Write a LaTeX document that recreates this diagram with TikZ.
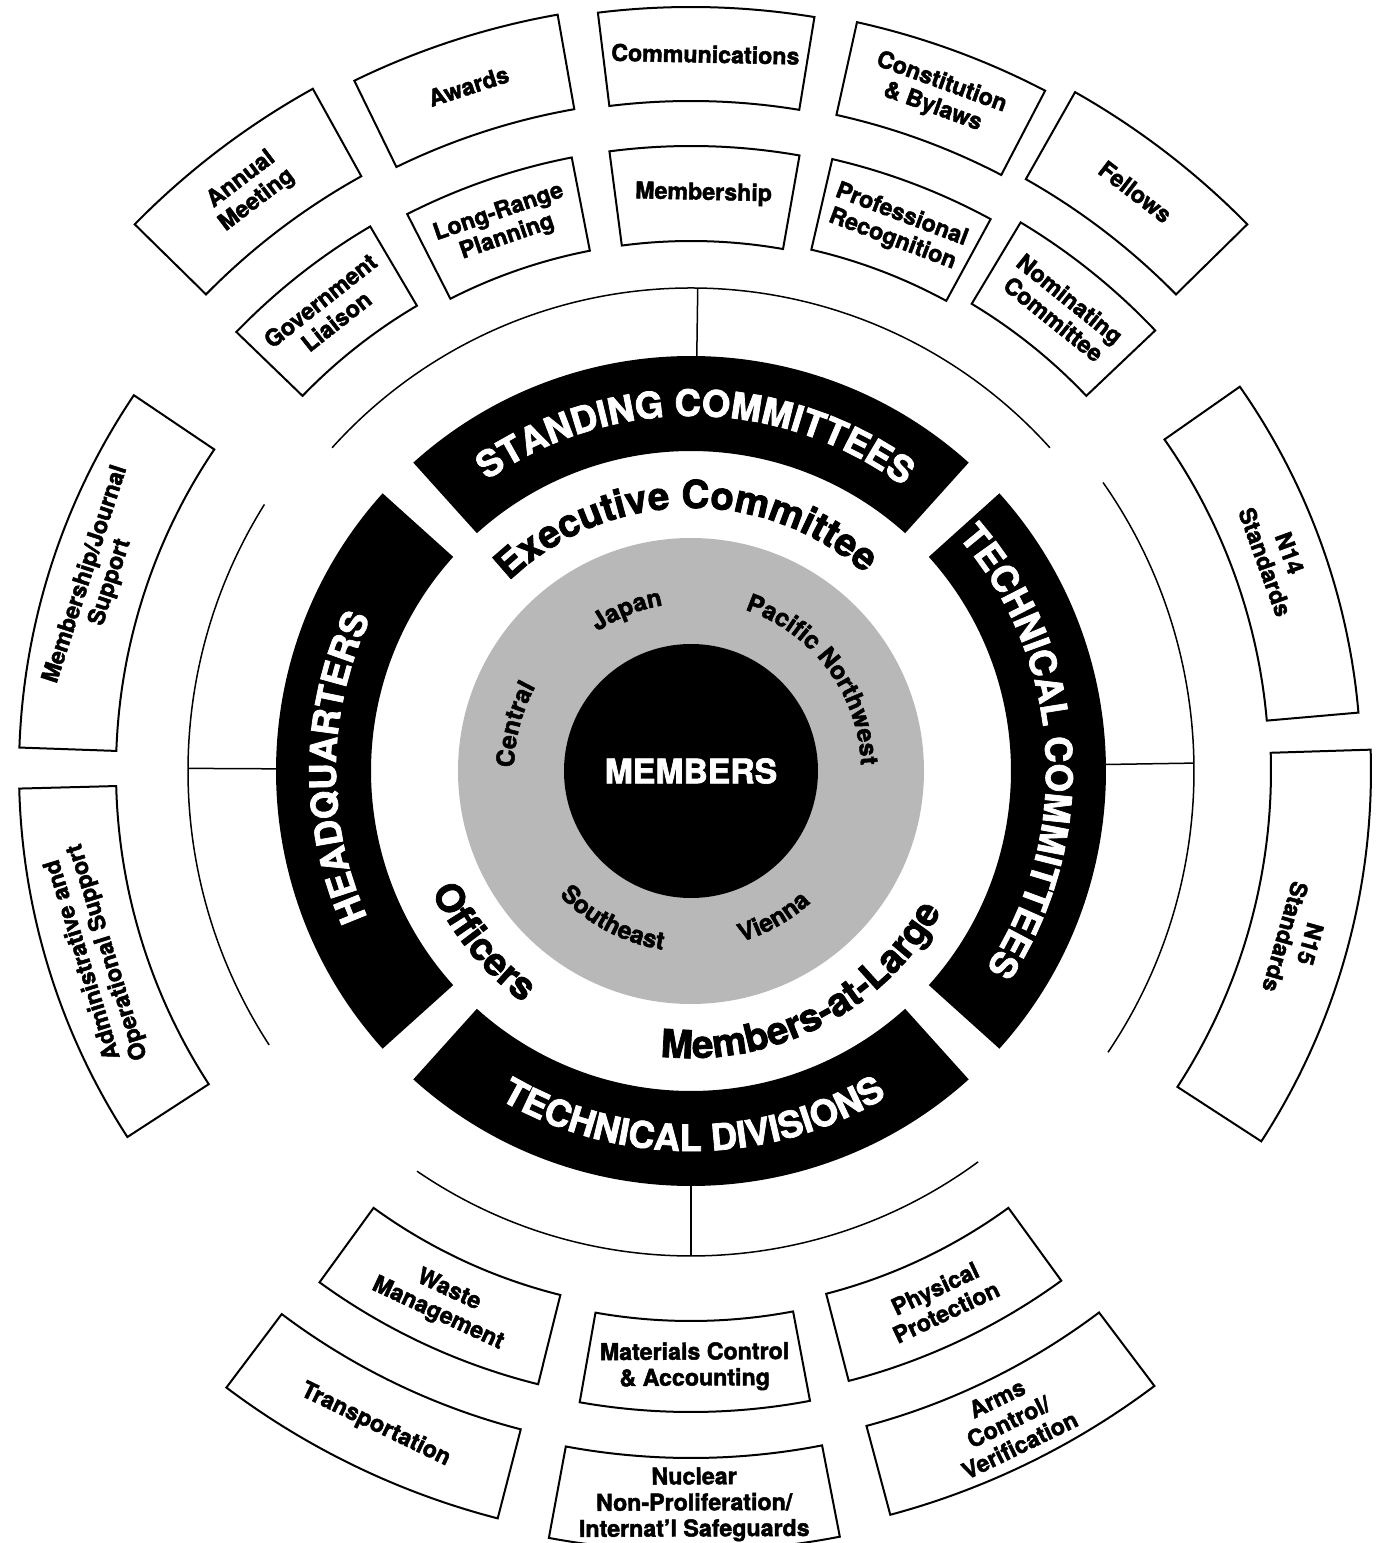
\documentclass[tikz,border=0pt]{standalone}
\usepackage{fontspec}
\setsansfont{TeX Gyre Heros}[BoldFeatures={FakeBold=2}]
\renewcommand{\familydefault}{\sfdefault}
\usetikzlibrary{decorations.text}

\newcommand{\bandfont}{\fontsize{10.4}{12}\selectfont\bfseries}
\newcommand{\execfont}{\fontsize{11}{13}\selectfont\bfseries}
\newcommand{\regionfont}{\fontsize{7}{8}\selectfont\bfseries}

\begin{document}
\begin{tikzpicture}[
    x=0.1mm, y=0.1mm, % one unit per pixel of the chart
    % Styles
    band/.style={fill=black},
    ring/.style={line width=0.15mm},
    box/.style={ % Committee or division box
        draw,
        line width=0.2mm
    },
    boxtext/.style={
        font=\fontsize{6.6}{7.4}\selectfont\bfseries,
        align=center,
        inner sep=0pt
    },
    whitetext/.style={ % Text set along an arc
        decorate,
        decoration={text along path, text align=center, text color=white, text={#1}}
    },
    blacktext/.style={
        decorate,
        decoration={text along path, text align=center, text={#1}}
    }
]
    \useasboundingbox (-691,-772) rectangle (693,771);

    % Black band
    \foreach \ta/\tb in {48/132, 138/222, 228/312, 318/402}
        \fill[band] (\ta:320) arc[start angle=\ta, end angle=\tb, radius=320]
            -- (\tb:415) arc[start angle=\tb, end angle=\ta, radius=415] -- cycle;

    % Sections and members
    \fill[black!28] (0,0) circle[radius=233];
    \node[circle, fill=black, text=white, minimum size=25.4mm, inner sep=0pt,
        font=\fontsize{9.6}{10}\selectfont\bfseries] (members) at (0,0) {MEMBERS};

    % Band labels
    \path[whitetext={|\bandfont|STANDING COMMITTEES}] (149.2:355) arc[start angle=149.2, end angle=29.2, radius=355];
    \path[whitetext={|\bandfont|TECHNICAL COMMITTEES}] (63.7:355) arc[start angle=63.7, end angle=-56.3, radius=355];
    \path[whitetext={|\bandfont|HEADQUARTERS}] (239.4:355) arc[start angle=239.4, end angle=119.4, radius=355];
    \path[whitetext={|\bandfont|TECHNICAL DIVISIONS}] (210.4:380) arc[start angle=210.4, end angle=330.4, radius=380];

    % Inner ring labels
    \path[blacktext={|\execfont|Executive Committee}] (151.2:263) arc[start angle=151.2, end angle=31.2, radius=263];
    \path[blacktext={|\execfont|Officers}] (189.5:286) arc[start angle=189.5, end angle=249.5, radius=286];
    \path[blacktext={|\execfont|Members-at-Large}] (252.3:287) arc[start angle=252.3, end angle=342.3, radius=287];

    % Section labels
    \path[blacktext={|\regionfont|Japan}] (141.7:168) arc[start angle=141.7, end angle=81.7, radius=168];
    \path[blacktext={|\regionfont|Pacific Northwest}] (96.7:170) arc[start angle=96.7, end angle=-23.3, radius=170];
    \path[blacktext={|\regionfont|Central}] (195.2:177) arc[start angle=195.2, end angle=135.2, radius=177];
    \path[blacktext={|\regionfont|Southeast}] (212.2:181) arc[start angle=212.2, end angle=272.2, radius=181];
    \path[blacktext={|\regionfont|Vienna}] (269.4:178) arc[start angle=269.4, end angle=329.4, radius=178];

    % Outer rings
    \draw[ring] (42:483) arc[start angle=42, end angle=138, radius=483];
    \draw[ring] (235.6:485) arc[start angle=235.6, end angle=306.3, radius=485];
    \draw[ring] (148:503) arc[start angle=148, end angle=213, radius=503];
    \draw[ring] (-34:503) arc[start angle=-34, end angle=35, radius=503];

    % Band -> rings
    \coordinate (sc_in) at (89.2:415);
    \coordinate (sc_out) at (89.2:483);
    \coordinate (hq_in) at (179.7:415);
    \coordinate (hq_out) at (179.7:503);
    \coordinate (tc_in) at (0.9:415);
    \coordinate (tc_out) at (0.9:503);
    \coordinate (td_in) at (270:415);
    \coordinate (td_out) at (270:485);
    \draw[ring] (sc_in) -- (sc_out);
    \draw[ring] (hq_in) -- (hq_out);
    \draw[ring] (tc_in) -- (tc_out);
    \draw[ring] (td_in) -- (td_out);

    % Standing committees, headquarters, technical committees
    \foreach \nm/\ta/\tb/\ra/\rb/\txt in {
        annual/119/135.5/680/780/{Annual\\Meeting},
        awards/100/116/672/768/Awards,
        comms/80.7/97/670/764/Communications,
        constitution/62.5/77.5/672/767/{Constitution\\\& Bylaws},
        fellows/44.5/60.5/680/780/Fellows,
        government/120.5/136/540/632/{Government\\Liaison},
        planning/101/117/530/625/{Long-Range\\Planning},
        membership/80/97.5/530/625/Membership,
        recognition/61.5/77/535/628/{Professional\\Recognition},
        nominating/43.5/59/545/640/{Nominating\\Committee},
        journal/146/178/575/672/{Membership/Journal\\Support},
        admin/181.5/213/575/672/{Administrative and\\Operational Support},
        n14/5/35/578/670/{N14\\Standards},
        n15/-33/1.8/580/680/{N15\\Standards}} {
        \draw[box] (\ta:\ra) arc[start angle=\ta, end angle=\tb, radius=\ra]
            -- (\tb:\rb) arc[start angle=\tb, end angle=\ta, radius=\rb] -- cycle;
        \pgfmathsetmacro\tmid{(\ta+\tb)/2}
        \pgfmathsetmacro\rmid{(\ra+\rb)/2}
        \node[boxtext, rotate=\tmid-90] (\nm) at (\tmid:\rmid) {\txt};
    }

    % Technical divisions
    \foreach \nm/\ta/\tb/\ra/\rb/\txt in {
        waste/234/256/540/632/{Waste\\Management},
        materials/260/280.7/550/641/{Materials Control\\\& Accounting},
        physical/284.5/306/540/630/{Physical\\Protection},
        transport/233/255.5/680/772/Transportation,
        nuclear/259.5/281/687/780/{Nuclear\\Non-Proliferation/\\Internat'l Safeguards},
        arms/285/307/678/770/{Arms\\Control/\\Verification}} {
        \draw[box] (\ta:\ra) arc[start angle=\ta, end angle=\tb, radius=\ra]
            -- (\tb:\rb) arc[start angle=\tb, end angle=\ta, radius=\rb] -- cycle;
        \pgfmathsetmacro\tmid{(\ta+\tb)/2}
        \pgfmathsetmacro\rmid{(\ra+\rb)/2}
        \node[boxtext, rotate=\tmid+90] (\nm) at (\tmid:\rmid) {\txt};
    }
\end{tikzpicture}
\end{document}
